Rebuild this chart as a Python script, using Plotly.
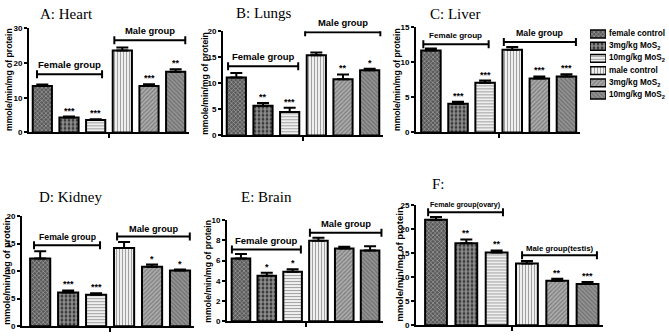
import plotly.graph_objects as go

W, H = 669, 336

# ---------------- data ----------------
series_labels = ["female control", "3mg/kg MoS<sub>2</sub>", "10mg/kg MoS<sub>2</sub>",
                 "male control", "3mg/kg MoS<sub>2</sub>", "10mg/kg MoS<sub>2</sub>"]
bar_index = [0, 1, 2, 3, 4, 5]
panel_titles = ["A: Heart", "B: Lungs", "C: Liver", "D: Kidney", "E: Brain", "F:"]
y_title = "mmole/min/mg of protein"

heart_mean = [13.4, 4.3, 3.6, 23.6, 13.4, 17.5]
heart_sem = [0.4, 0.3, 0.2, 0.9, 0.5, 0.7]
heart_sig = ["", "***", "***", "", "***", "**"]

lungs_mean = [11.1, 5.7, 4.5, 15.4, 10.8, 12.5]
lungs_sem = [0.9, 0.5, 0.8, 0.5, 0.9, 0.3]
lungs_sig = ["", "**", "***", "", "**", "*"]

liver_mean = [11.7, 4.1, 7.1, 11.8, 7.7, 8.0]
liver_sem = [0.3, 0.3, 0.3, 0.4, 0.3, 0.3]
liver_sig = ["", "***", "***", "", "***", "***"]

kidney_mean = [12.3, 6.1, 5.7, 14.2, 10.8, 10.1]
kidney_sem = [1.3, 0.4, 0.3, 1.1, 0.4, 0.2]
kidney_sig = ["", "***", "***", "", "*", "*"]

brain_mean = [6.2, 4.5, 4.9, 7.95, 7.2, 7.0]
brain_sem = [0.45, 0.3, 0.25, 0.3, 0.15, 0.4]
brain_sig = ["", "*", "*", "", "", ""]

gonad_mean = [22.0, 17.1, 15.2, 12.9, 9.3, 8.6]
gonad_sem = [0.6, 0.8, 0.4, 0.5, 0.4, 0.4]
gonad_sig = ["", "**", "**", "", "**", "***"]

y_max = [30, 20, 15, 20, 10, 25]
y_dtick = [10, 5, 5, 5, 2, 5]

group_labels = [("Female group", "Male group")] * 5 + [("Female group(ovary)", "Male group(testis)")]

means = [heart_mean, lungs_mean, liver_mean, kidney_mean, brain_mean, gonad_mean]
sems = [heart_sem, lungs_sem, liver_sem, kidney_sem, brain_sem, gonad_sem]
sigs = [heart_sig, lungs_sig, liver_sig, kidney_sig, brain_sig, gonad_sig]

# ---------------- layout / style ----------------
# plot boxes in pixels: left, right, top, bottom
boxes = [(29, 189, 25, 132), (223, 383, 28, 135), (416, 580, 24, 132),
         (22, 194, 218, 331), (227, 383, 222, 326), (416, 603, 207, 330)]
x_ranges = [(-0.5, 5.5), (-0.5, 5.5), (-0.55, 5.5), (-0.65, 5.5), (-0.54, 5.5), (-0.66, 5.51)]
# brackets: (x0, x1, level) female, male
brackets = [
    [(-0.2, 2.24, 16.8), (2.7, 5.36, 26.6)],
    [(-0.31, 2.32, 13.3), (2.58, 5.4, 19.8)],
    [(-0.28, 2.13, 12.6), (2.69, 5.35, 12.9)],
    [(-0.22, 2.14, 14.7), (2.75, 5.35, 16.3)],
    [(-0.35, 2.32, 7.1), (2.67, 5.44, 8.75)],
    [(-0.26, 2.21, 23.6), (2.84, 5.31, 14.6)],
]
label_sizes = [(9.6, 9.4), (9.5, 9.4), (8.1, 8.8), (8.7, 9.2), (9.5, 9.4), (7.1, 7.8)]
label_shift = [10, 10, 9, 8, 9, 7]
title_pos = [(66, 10), (264, 9), (455, 10), (70, 198), (266, 198), (438, 185)]
ytitle_pos = [(9, 78, 8.6), (205, 82, 8.6), (397, 78, 8.6), (7, 274, 9.0), (208, 274, 8.6), (400, 268, 9.6)]

pat_shape = ["x", ".", "-", "|", "/", "\\"]
base_col = ["#5a5a5a", "#1a1a1a", "#ffffff", "#ffffff", "#ababab", "#929292"]
pat_fg = ["#000000", "#ffffff", "#000000", "#000000", "#303030", "#202020"]
pat_size = [3, 4, 3, 3, 3, 3]
pat_solid = [0.35, 0.7, 0.45, 0.45, 0.35, 0.35]

SANS = "Liberation Sans"
SERIF = "Liberation Serif"

fig = go.Figure()
annotations = []
shapes = []
layout = {}

def px2x(px):
    return px / W

def px2y(py):
    return 1 - py / H

def marker_style(line_w):
    return dict(
        color=base_col,
        line=dict(color="black", width=line_w),
        pattern=dict(shape=pat_shape, fgcolor=pat_fg, size=pat_size,
                     solidity=pat_solid, fillmode="overlay"),
    )

for p in range(6):
    n = p + 1
    xa = "x" if n == 1 else f"x{n}"
    ya = "y" if n == 1 else f"y{n}"
    l, r, t, b = boxes[p]
    fig.add_trace(go.Bar(
        x=bar_index, y=means[p], xaxis=xa, yaxis=ya, width=0.72,
        marker=marker_style(2),
        error_y=dict(type="data", array=sems[p], arrayminus=[0] * 6, symmetric=False,
                     color="black", thickness=2, width=6),
        showlegend=False, hoverinfo="skip",
    ))
    layout["xaxis" if n == 1 else f"xaxis{n}"] = dict(
        domain=[px2x(l), px2x(r)], anchor=ya, range=list(x_ranges[p]),
        showline=True, linecolor="black", linewidth=2, showgrid=False, zeroline=False,
        tickvals=[2.5], ticks="outside", ticklen=4, tickwidth=2, tickcolor="black",
        showticklabels=False, fixedrange=True,
    )
    layout["yaxis" if n == 1 else f"yaxis{n}"] = dict(
        domain=[px2y(b), px2y(t)], anchor=xa, range=[0, y_max[p]],
        showline=True, linecolor="black", linewidth=2, showgrid=False, zeroline=False,
        dtick=y_dtick[p], tick0=0, ticks="outside", ticklen=3, tickwidth=2, tickcolor="black",
        tickfont=dict(family=SANS, size=8, color="black", weight="bold"),
        fixedrange=True,
    )
    # significance stars
    for i in bar_index:
        if sigs[p][i]:
            annotations.append(dict(
                x=i, y=means[p][i] + sems[p][i], xref=xa, yref=ya, text=sigs[p][i],
                showarrow=False, yanchor="bottom", yshift=-1,
                font=dict(family=SANS, size=9, color="black", weight="bold"),
            ))
    # brackets and group labels
    for g, (x0, x1, lev) in enumerate(brackets[p]):
        shapes.append(dict(type="line", xref=xa, yref=ya, x0=x0, x1=x1, y0=lev, y1=lev,
                           line=dict(color="black", width=2)))
        for xe in (x0, x1):
            shapes.append(dict(type="line", xref=xa, yref=ya, x0=xe, x1=xe,
                               ysizemode="pixel", yanchor=lev, y0=-4, y1=4,
                               line=dict(color="black", width=2)))
        annotations.append(dict(
            x=(x0 + x1) / 2, y=lev, xref=xa, yref=ya, text=group_labels[p][g],
            showarrow=False, yanchor="middle", yshift=label_shift[p],
            font=dict(family=SANS, size=label_sizes[p][g], color="black", weight="bold"),
        ))
    # panel title
    tx, ty = title_pos[p]
    annotations.append(dict(x=px2x(tx), y=px2y(ty), xref="paper", yref="paper",
                            text=panel_titles[p], showarrow=False,
                            xanchor="center", yanchor="middle",
                            font=dict(family=SERIF, size=15, color="black")))
    # y axis title
    yx, yy, ys = ytitle_pos[p]
    annotations.append(dict(x=px2x(yx), y=px2y(yy), xref="paper", yref="paper",
                            text=y_title, showarrow=False, textangle=-90,
                            xanchor="center", yanchor="middle",
                            font=dict(family=SANS, size=ys, color="black", weight="bold")))

# ---------------- legend (swatches drawn as a tiny bar subplot) ----------------
fig.add_trace(go.Bar(
    x=[1] * 6, y=bar_index, orientation="h", xaxis="x7", yaxis="y7", width=0.64,
    marker=marker_style(1.5),
    showlegend=False, hoverinfo="skip",
))
layout["xaxis7"] = dict(domain=[590 / W, 606 / W], anchor="y7", range=[0, 1], visible=False, fixedrange=True)
layout["yaxis7"] = dict(domain=[px2y(100), px2y(24.5)], anchor="x7", range=[5.5, -0.5],
                        visible=False, fixedrange=True)
for i in bar_index:
    annotations.append(dict(x=607 / W, y=i, xref="paper", yref="y7", text=series_labels[i],
                            showarrow=False, xanchor="left", yanchor="middle",
                            font=dict(family=SANS, size=8.2, color="black", weight="bold")))

fig.update_layout(
    width=W, height=H, margin=dict(l=0, r=0, t=0, b=0),
    paper_bgcolor="white", plot_bgcolor="white",
    annotations=annotations, shapes=shapes, bargap=0.28, showlegend=False,
    **layout,
)

fig.write_html("out.html", config={"displayModeBar": False},
               post_script="document.body.style.margin='0px';document.body.style.overflow='hidden';")
